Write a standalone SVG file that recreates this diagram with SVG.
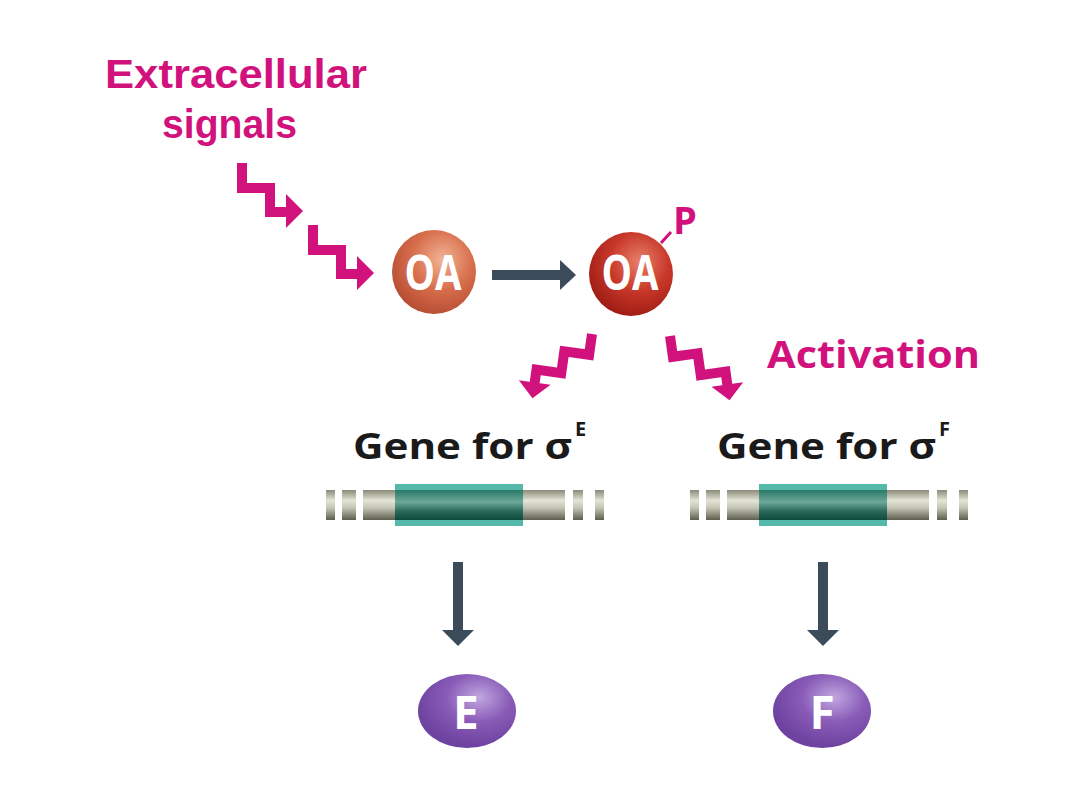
<svg xmlns="http://www.w3.org/2000/svg" xmlns:xlink="http://www.w3.org/1999/xlink" width="1080" height="810" viewBox="0 0 1080 810">
<defs>
<style>
.mag{fill:#d1127d;font-family:"Open Sans","Liberation Sans",sans-serif;font-weight:700}
.mag2{fill:#d1127d;font-family:"Liberation Sans",Arial,sans-serif;font-weight:700}
.lbl{fill:#1a1a1a;font-family:"Open Sans","Liberation Sans",sans-serif;font-weight:700}
.wt{fill:#ffffff;font-family:"Open Sans","Liberation Sans",sans-serif;font-weight:700;text-anchor:middle}
.bolt{fill:none;stroke:#d1127d;stroke-width:10;stroke-linejoin:miter;stroke-miterlimit:10}
.bhead{fill:#d1127d}
.dark{fill:#3b4b59}
.bar{fill:url(#gBar)}
</style>
<linearGradient id="gBar" x1="0" y1="0" x2="0" y2="1">
<stop offset="0" stop-color="#8a8a7a"/>
<stop offset="0.35" stop-color="#e4e4d6"/>
<stop offset="0.6" stop-color="#c4c4b4"/>
<stop offset="1" stop-color="#5e5e4e"/>
</linearGradient>
<linearGradient id="gTeal" x1="0" y1="0" x2="0" y2="1">
<stop offset="0" stop-color="#2a7868"/>
<stop offset="0.4" stop-color="#6ca898"/>
<stop offset="0.7" stop-color="#2b6b5b"/>
<stop offset="1" stop-color="#0c4a3c"/>
</linearGradient>
<radialGradient id="gOA1" cx="0.6" cy="0.35" r="0.7">
<stop offset="0" stop-color="#f2b496"/>
<stop offset="0.5" stop-color="#d8704e"/>
<stop offset="1" stop-color="#b44a30"/>
</radialGradient>
<radialGradient id="gOA2" cx="0.6" cy="0.35" r="0.7">
<stop offset="0" stop-color="#e8806a"/>
<stop offset="0.5" stop-color="#c8382a"/>
<stop offset="1" stop-color="#9c1a12"/>
</radialGradient>
<radialGradient id="gProt" cx="0.62" cy="0.32" r="0.65">
<stop offset="0" stop-color="#c0a8e0"/>
<stop offset="0.5" stop-color="#8a5cb8"/>
<stop offset="1" stop-color="#6e42a0"/>
</radialGradient>
<g id="boltA">
<path class="bolt" d="M0,0 V25 H28 V49 H47"/>
<polygon class="bhead" points="44,31 61,48 44,65"/>
</g>
<g id="boltB">
<path class="bolt" d="M0,0 V21 H25 V43 H50 V58"/>
<polygon class="bhead" points="34,56 66,56 50,72"/>
</g>
<g id="gene">
<rect class="bar" x="0" y="490" width="9" height="30"/>
<rect class="bar" x="16" y="490" width="14" height="30"/>
<rect class="bar" x="37" y="490" width="202" height="30"/>
<rect class="bar" x="247" y="490" width="10" height="30"/>
<rect class="bar" x="269" y="490" width="9" height="30"/>
<rect x="69" y="484" width="128" height="42" fill="#55b9aa"/>
<rect x="69" y="490" width="128" height="30" fill="url(#gTeal)"/>
</g>
</defs>

<g id="connectors">
<use xlink:href="#boltA" transform="translate(242,163)"/>
<use xlink:href="#boltA" transform="translate(313,225)"/>
<use xlink:href="#boltB" transform="translate(592,334) scale(-1,1) rotate(-8)"/>
<use xlink:href="#boltB" transform="translate(670,336) rotate(-8)"/>
<rect class="dark" x="492" y="270" width="70" height="10"/>
<polygon class="dark" points="560,260 576,275 560,290"/>
<rect class="dark" x="453" y="562" width="10" height="70"/>
<polygon class="dark" points="442,630 474,630 458,646"/>
<rect class="dark" x="818" y="562" width="10" height="70"/>
<polygon class="dark" points="807,630 839,630 823,646"/>
<line x1="661" y1="243" x2="671" y2="232" stroke="#d1127d" stroke-width="3"/>
</g>

<g id="extracellular-signals">
<text class="mag2" x="105" y="88" font-size="41" textLength="262" lengthAdjust="spacingAndGlyphs">Extracellular</text>
<text class="mag2" x="162" y="138" font-size="41" textLength="135" lengthAdjust="spacingAndGlyphs">signals</text>
</g>

<g id="OA">
<circle cx="434" cy="272" r="42" fill="url(#gOA1)"/>
<text class="wt" x="433" y="290" font-size="48" textLength="57" lengthAdjust="spacingAndGlyphs">OA</text>
</g>

<g id="OA-P">
<circle cx="631" cy="274" r="42" fill="url(#gOA2)"/>
<text class="wt" x="630" y="290" font-size="48" textLength="57" lengthAdjust="spacingAndGlyphs">OA</text>
<text class="mag" x="673" y="234" font-size="38">P</text>
</g>

<g id="activation">
<text class="mag" x="767" y="368" font-size="37" textLength="213" lengthAdjust="spacingAndGlyphs">Activation</text>
</g>

<g id="gene-sigmaE">
<text class="lbl" x="353" y="459" font-size="36" textLength="219" lengthAdjust="spacingAndGlyphs">Gene for σ</text>
<text class="lbl" x="575" y="436" font-size="20">E</text>
<use xlink:href="#gene" transform="translate(326,0)"/>
</g>

<g id="gene-sigmaF">
<text class="lbl" x="717" y="459" font-size="36" textLength="219" lengthAdjust="spacingAndGlyphs">Gene for σ</text>
<text class="lbl" x="939" y="436" font-size="20">F</text>
<use xlink:href="#gene" transform="translate(690,0)"/>
</g>

<g id="protein-E">
<ellipse cx="467" cy="711" rx="49" ry="37" fill="url(#gProt)"/>
<text class="wt" x="466" y="729" font-size="46">E</text>
</g>

<g id="protein-F">
<ellipse cx="822" cy="711" rx="49" ry="37" fill="url(#gProt)"/>
<text class="wt" x="822" y="729" font-size="46">F</text>
</g>
</svg>
